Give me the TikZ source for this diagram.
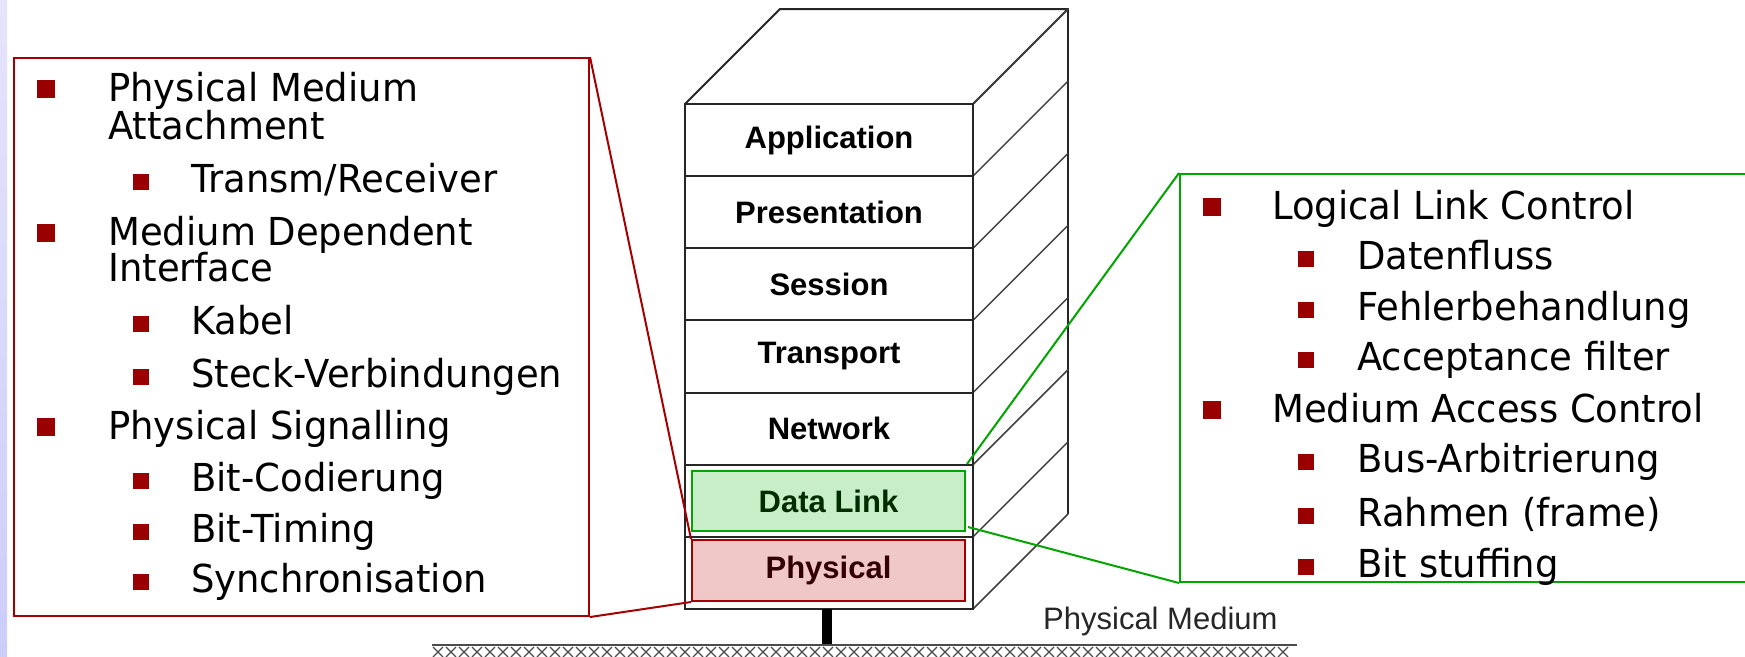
\documentclass[tikz,border=0pt]{standalone}
\usepackage{fontspec}
\newfontfamily\tah[FakeStretch=0.96]{DejaVu Sans}
\newfontfamily\ari{Liberation Sans}
\usetikzlibrary{calc}
\definecolor{bred}{RGB}{165,0,0}
\definecolor{bulred}{RGB}{153,0,0}
\definecolor{bgreen}{RGB}{0,165,0}
\definecolor{dlfill}{RGB}{200,238,200}
\definecolor{phfill}{RGB}{240,200,200}
\definecolor{dltext}{RGB}{0,45,0}
\definecolor{phtext}{RGB}{50,0,0}
\definecolor{stripA}{RGB}{228,228,252}
\definecolor{stripB}{RGB}{130,130,245}
\definecolor{stripC}{RGB}{205,205,250}
\newcommand\itemA[3]{\node[bulA] (#1b) at (46,#2-12) {}; \node[itm] (#1) at (108,#2) {#3};}
\newcommand\itemB[3]{\node[bulB] (#1b) at (141,#2-10) {}; \node[itm] (#1) at (191,#2) {#3};}
\newcommand\itemC[3]{\node[bulA] (#1b) at (1212,#2-12) {}; \node[itm] (#1) at (1272,#2) {#3};}
\newcommand\itemD[3]{\node[bulB] (#1b) at (1306,#2-10) {}; \node[itm] (#1) at (1357,#2) {#3};}
\begin{document}
\begin{tikzpicture}[x=1pt,y=-1pt,
  frame/.style={draw=black!85,line width=2},
  diag/.style={draw=black!75,line width=1.5},
  lay/.style={font=\ari\bfseries\fontsize{31}{31}\selectfont, inner sep=0},
  itm/.style={anchor=base west, inner sep=0, font=\tah\fontsize{38.5}{40}\selectfont},
  bulA/.style={fill=bulred, minimum size=18, inner sep=0},
  bulB/.style={fill=bulred, minimum size=16, inner sep=0},
  redline/.style={draw=bred, line width=2},
  greenline/.style={draw=bgreen, line width=2}]
\useasboundingbox (0,0) rectangle (1745,656);
\clip (0,0) rectangle (1745,656);
\fill[white] (0,0) rectangle (1745,656);
% left strip
\shade[top color=stripA, middle color=stripB, bottom color=stripC] (0,0) rectangle (7,656);
% stack
\draw[frame, line join=round] (685,104) -- (780,9) -- (1068,9) -- (973,104);
\draw[frame] (1068,9) -- (1068,514);
\foreach \y in {104,176.1,248.3,320.4,392.6,464.7,536.9,609}
  \draw[diag] (973,\y) -- (1068,\y-95);
\draw[frame] (685,104) rectangle (973,609);
\foreach \y in {176.1,248.3,320.4,392.6,464.7,536.9}
  \draw[frame] (685,\y) -- (973,\y);
\foreach \n/\t [count=\i] in {app/Application,pres/Presentation,sess/Session,trans/Transport,net/Network}
  \node[lay] (\n) at (829,104+72.14*\i-36.07) {\t};
\node[lay, draw=bgreen, line width=2, fill=dlfill, minimum width=273, minimum height=60, text=dltext] (dl) at (828.5,501) {Data Link};
\node[lay, draw=bred, line width=2, fill=phfill, minimum width=273, minimum height=61, text=phtext] (ph) at (828.5,570.5) {Physical};
% cable and medium
\coordinate (stackbot) at (827,609);
\coordinate (bustop) at (827,645);
\draw[line width=10] (stackbot) -- (bustop);
\coordinate (busL) at (432,645);
\coordinate (busR) at (1297,645);
\draw[draw=black!70, line width=2] (busL) -- (busR);
\foreach \x in {433,446,...,1290}
  \draw[black!70, line width=1.3] (\x,647) -- (\x+10,657) (\x,657) -- (\x+10,647);
\node[anchor=base west, inner sep=0, font=\ari\fontsize{31}{31}\selectfont, text=black!85] (pm) at (1043,629) {Physical Medium};
% left box
\node[draw=bred, line width=2, fill=white, minimum width=575, minimum height=558, anchor=north west, inner sep=0] (lbox) at (13,57) {};
\itemA{a1}{101}{Physical Medium}
\node[itm] (a1w) at (108,139) {Attachment};
\itemB{a2}{192}{Transm/Receiver}
\itemA{a3}{245}{Medium Dependent}
\node[itm] (a3w) at (108,281) {Interface};
\itemB{a4}{334}{Kabel}
\itemB{a5}{387}{Steck-Verbindungen}
\itemA{a6}{439}{Physical Signalling}
\itemB{a7}{491}{Bit-Codierung}
\itemB{a8}{542}{Bit-Timing}
\itemB{a9}{592}{Synchronisation}
% right box
\node[draw=bgreen, line width=2, fill=white, minimum width=700, minimum height=408, anchor=north west, inner sep=0] (rbox) at (1179,173) {};
\itemC{b1}{219}{Logical Link Control}
\itemD{b2}{269}{Datenfluss}
\itemD{b3}{320}{Fehlerbehandlung}
\itemD{b4}{370}{Acceptance filter}
\itemC{b5}{422}{Medium Access Control}
\itemD{b6}{472}{Bus-Arbitrierung}
\itemD{b7}{526}{Rahmen (frame)}
\itemD{b8}{577}{Bit stuffing}
% connectors
\draw[redline] (lbox.north east) -- (ph.north west);
\draw[redline] (lbox.south east) -- (ph.south west);
\draw[greenline] (rbox.north west) -- ($(dl.north east)+(1,-6)$);
\draw[greenline] (rbox.south west) -- ($(dl.south east)+(2,-5)$);
\end{tikzpicture}
\end{document}
